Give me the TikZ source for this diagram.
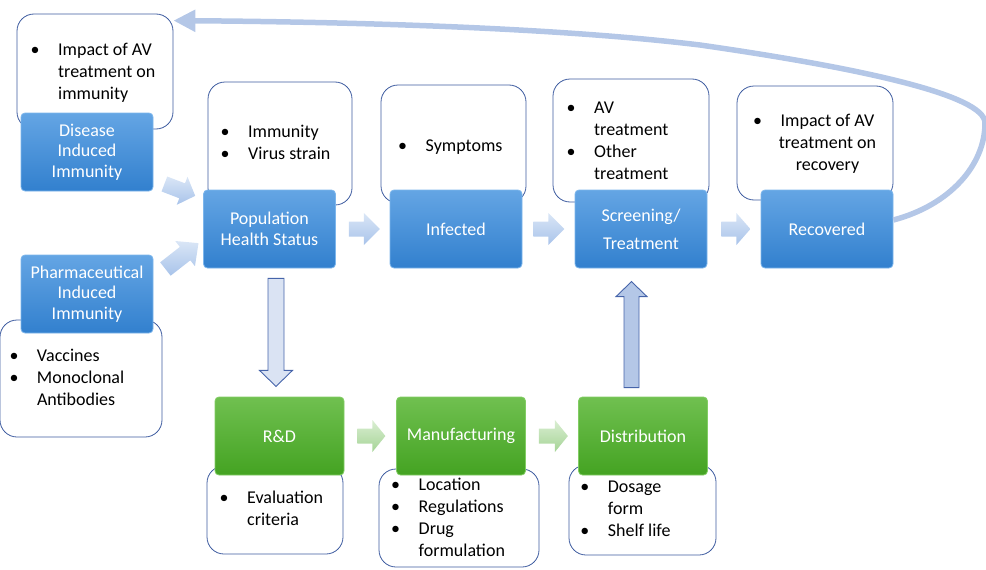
\documentclass[tikz,border=0pt]{standalone}
\usepackage{fontspec}
\setmainfont{Carlito}
\usetikzlibrary{calc,arrows.meta}

\definecolor{boxtop}{RGB}{100,165,228}
\definecolor{boxbot}{RGB}{50,128,206}
\definecolor{boxedge}{RGB}{125,182,236}
\definecolor{grtop}{RGB}{112,192,80}
\definecolor{grbot}{RGB}{68,163,34}
\definecolor{gredge}{RGB}{130,205,100}
\definecolor{calline}{RGB}{62,92,160}
\definecolor{harrtop}{RGB}{218,230,246}
\definecolor{harrbot}{RGB}{168,195,234}
\definecolor{garrtop}{RGB}{218,238,210}
\definecolor{garrbot}{RGB}{165,212,150}
\definecolor{loopblue}{RGB}{180,199,231}
\definecolor{downfill}{RGB}{218,227,243}
\definecolor{arredge}{RGB}{70,100,170}

\newcommand{\lblfont}{\fontsize{18}{20.5}\selectfont}
\newcommand{\txtfont}{\fontsize{18}{22}\selectfont}
\newcommand{\bitem}{\rule{0pt}{13pt}\makebox[0pt]{\textbullet}\hspace*{23pt}}
\newcommand{\bcont}{\hspace*{23pt}}

\tikzset{
  pics/blockarr/.style args={#1/#2/#3/#4/#5}{code={
    \path[#5] (0,-#2) -- ({#1-#4},-#2) -- ({#1-#4},-#3) -- (#1,0) -- ({#1-#4},#3) -- ({#1-#4},#2) -- (0,#2) -- cycle;
  }}
}

\begin{document}
\begin{tikzpicture}[x=1pt, y=-1pt,
    bluebox/.style={rectangle, rounded corners=4pt, minimum width=132pt, minimum height=78pt,
      top color=boxtop, bottom color=boxbot, draw=boxedge, line width=0.8pt,
      text=white, align=center, font=\lblfont, inner sep=2pt},
    greenbox/.style={bluebox, minimum width=129pt, top color=grtop, bottom color=grbot, draw=gredge},
    notebox/.style={rectangle, rounded corners=17pt, draw=calline, fill=white, line width=0.8pt},
    bullets/.style={anchor=north west, inner sep=0pt, align=left, font=\txtfont},
    harr/.style={top color=harrtop, bottom color=harrbot, draw=none},
    garr/.style={top color=garrtop, bottom color=garrbot, draw=none},
    darr/.style={fill=downfill, draw=arredge, line width=0.9pt},
    uarr/.style={fill=loopblue, draw=arredge, line width=0.9pt},
    loopline/.style={draw=loopblue, line width=5.5pt, -{Triangle[width=21pt,length=22pt]}}]
\useasboundingbox (0,0) rectangle (986,570);

% note boxes (behind)
\node[notebox, minimum width=156pt, minimum height=115pt] (discall) at (95,71.5) {};
\node[notebox, minimum width=162pt, minimum height=117pt] (phacall) at (81,378.5) {};
\node[notebox, minimum width=144pt, minimum height=123pt] (popcall) at (280,143.5) {};
\node[notebox, minimum width=145pt, minimum height=118pt] (infcall) at (453.5,144) {};
\node[notebox, minimum width=156pt, minimum height=123pt] (scrcall) at (631,140.5) {};
\node[notebox, minimum width=156pt, minimum height=114pt] (reccall) at (815,143) {};
\node[notebox, minimum width=136pt, minimum height=88pt] (rdcall) at (275,510) {};
\node[notebox, minimum width=160pt, minimum height=98pt] (mancall) at (459,518) {};
\node[notebox, minimum width=147pt, minimum height=90pt] (dstcall) at (642.5,510) {};

% note texts
\node[bullets] (distxt) at (35,42) {\bitem Impact of AV\\\bcont treatment on\\\bcont immunity};
\node[bullets] (poptxt) at (225,124.3) {\bitem Immunity\\\bitem Virus strain};
\node[bullets] (inftxt) at (402.5,138.7) {\bitem Symptoms};
\node[bullets] (scrtxt) at (571,100.3) {\bitem AV\\\bcont treatment\\\bitem Other\\\bcont treatment};
\node[bullets, align=center, anchor=north] (rectxt) at (827.5,113) {\llap{\bitem}Impact of AV\\treatment on\\recovery};
\node[bullets] (phatxt) at (13.8,348.7) {\bitem Vaccines\\\bitem Monoclonal\\\bcont Antibodies};
\node[bullets] (rdtxt) at (224,490.3) {\bitem Evaluation\\\bcont criteria};
\node[bullets] (mantxt) at (395.5,477.7) {\bitem Location\\\bitem Regulations\\\bitem Drug\\\bcont formulation};
\node[bullets] (dsttxt) at (584.7,479.7) {\bitem Dosage\\\bcont form\\\bitem Shelf life};

% main boxes
\node[bluebox] (dis) at (87,152) {Disease\\Induced\\Immunity};
\node[bluebox] (pha) at (87,294) {Pharmaceutical\\Induced\\Immunity};
\node[bluebox] (pop) at (269.5,229) {Population\\Health Status};
\node[bluebox] (inf) at (456,229) {Infected};
\node[bluebox] (scr) at (641,229) {Screening/\\[7.5pt]Treatment};
\node[bluebox] (rec) at (827,229) {Recovered};
\node[greenbox] (rd) at (279.5,436) {R\&D};
\node[greenbox] (man) at (461,436) {Manufacturing};
\node[greenbox] (dst) at (643,436) {Distribution};

% block arrows
\pic[rotate=-21] at ($(dis.east)+(11,32)$) {blockarr=33/8/15/14/harr};
\pic[rotate=38] at ($(pha.east)+(12,-25)$) {blockarr=42/8.5/16/17/harr};
\pic at ($(pop.east)+(13,0)$) {blockarr=31/7.5/16/16/harr};
\pic at ($(inf.east)+(11,0)$) {blockarr=31/7.5/16/16/harr};
\pic at ($(scr.east)+(14,0)$) {blockarr=29/7.5/16/14/harr};
\pic at ($(rd.east)+(13,0)$) {blockarr=28/7.5/16/13/garr};
\pic at ($(man.east)+(13,0)$) {blockarr=29/7.5/16/13/garr};
\pic[rotate=-90] at ($(pop.south)+(6.5,10)$) {blockarr=108/8/16.5/16/darr};
\pic[rotate=90] at ($(dst.north)+(-11.5,-9)$) {blockarr=106/7.5/15.5/15/uarr};

% feedback loop
\draw[loopline] ($(rec.east)+(0,-9)$) .. controls (950,205) and (985,165) .. (985,123)
  .. controls (985,95) and (860,68) .. (700,45)
  .. controls (560,28) and (360,22) .. ($(discall.north east)+(0,7)$);
\end{tikzpicture}
\end{document}
